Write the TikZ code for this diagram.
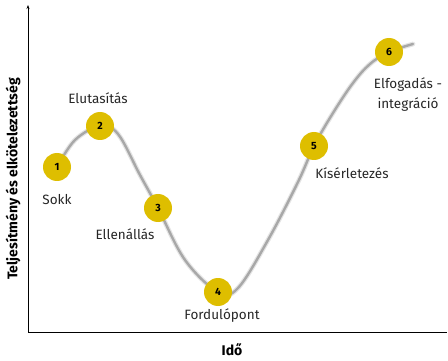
\documentclass[tikz,border=0pt]{standalone}
\usepackage{fontspec}
\setmainfont{Fira Sans}
\usetikzlibrary{arrows.meta}
\definecolor{gold}{HTML}{DEBE00}
\definecolor{curvegray}{HTML}{A8A8A8}
\begin{document}
\begin{tikzpicture}[x=1pt,y=-1pt,
  stage/.style={circle,fill=gold,minimum size=28pt,inner sep=0pt,font=\fontsize{10.5}{12}\selectfont\bfseries},
  lbl/.style={font=\fontsize{13.5}{20}\selectfont,text=black!85,align=center},
  axislbl/.style={font=\fontsize{14}{16}\selectfont\bfseries}]
\useasboundingbox (0,0) rectangle (448,361);
\coordinate (o) at (28,332);
\coordinate (ytop) at (28,5);
\coordinate (xend) at (447,332);
\draw[line width=0.8pt,-{Stealth[length=4pt,width=3pt]}] (o) -- (ytop);
\draw[line width=0.8pt] (o) -- (xend);
% curve
\foreach \w/\c in {4.8pt/black!10,2.4pt/curvegray}{
\draw[line width=\w,\c,line cap=round] plot[smooth,tension=0.6] coordinates
 {(57,167) (75,140) (100,126) (118,134) (140,175) (158,208) (185,260) (218,292) (238,288) (268,240) (298,182) (314,146) (333,113) (353,83) (370,64) (389,52) (413,44)};
}
\node[stage] (s1) at (57,167) {1};
\node[stage] (s2) at (100,126) {2};
\node[stage] (s3) at (158,208) {3};
\node[stage] (s4) at (218,292) {4};
\node[stage] (s5) at (314,146) {5};
\node[stage] (s6) at (389,52) {6};
\node[lbl] (l1) at (57,200) {Sokk};
\node[lbl] (l2) at (98,98) {Elutasítás};
\node[lbl] (l3) at (125,234) {Ellenállás};
\node[lbl] (l4) at (222,316) {Fordulópont};
\node[lbl] (l5) at (352,173) {Kísérletezés};
\node[lbl] (l6) at (408,95) {Elfogadás -\\integráció};
\node[axislbl] (xl) at (232,350) {Idő};
\node[axislbl,rotate=90] (yl) at (13,179) {Teljesítmény és elkötelezettség};
\end{tikzpicture}
\end{document}
